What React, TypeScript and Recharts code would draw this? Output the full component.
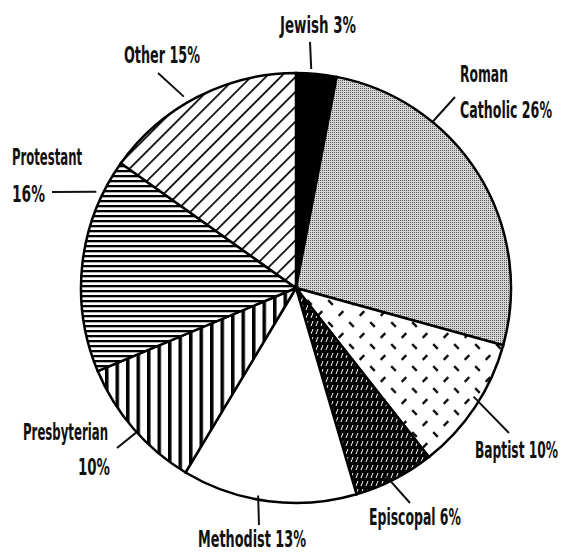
import { Cell, Pie, PieChart } from "recharts";

// Religious affiliation shares (percent), clockwise from 12 o'clock
const CATEGORIES = [
    "Jewish",
    "Roman Catholic",
    "Baptist",
    "Episcopal",
    "Methodist",
    "Presbyterian",
    "Protestant",
    "Other",
];
const SHARES = [3, 26, 10, 6, 13, 10, 16, 15];
const LABEL_TEXT = [
    ["Jewish 3%"],
    ["Roman", "Catholic 26%"],
    ["Baptist 10%"],
    ["Episcopal 6%"],
    ["Methodist 13%"],
    ["Presbyterian", "10%"],
    ["Protestant", "16%"],
    ["Other 15%"],
];
const FILLS = [
    "#000000",
    "url(#pat-dots)",
    "url(#pat-dashes)",
    "url(#pat-episcopal)",
    "#ffffff",
    "url(#pat-vertical)",
    "url(#pat-horizontal)",
    "url(#pat-diagonal)",
];

const data = CATEGORIES.map((name, i) => ({ name, value: SHARES[i] }));

const W = 562;
const H = 554;
const CX = 291;
const CY = 283;
const R = 215;
const FONT = "'Liberation Sans Narrow', 'DejaVu Sans Condensed', 'DejaVu Sans', sans-serif";
const FONT_SIZE = 14;
const STRETCH_Y = 1.6; // tall, narrow lettering like the original

// leader lines: angle on the rim (clockwise from top), outer end point,
// and where each text line sits
type LabelLayout = {
    angle: number;
    end: [number, number];
    lines: { x: number; y: number; len: number; anchor: "start" | "middle" | "end" }[];
};

const LABEL_LAYOUT: LabelLayout[] = [
    { angle: 5.4, end: [310, 42], lines: [{ x: 318, y: 33, len: 76, anchor: "middle" }] },
    {
        angle: 41.3,
        end: [455, 97],
        lines: [
            { x: 460, y: 82, len: 48, anchor: "start" },
            { x: 460, y: 118, len: 92, anchor: "start" },
        ],
    },
    { angle: 121.9, end: [509, 433], lines: [{ x: 475, y: 458, len: 83, anchor: "start" }] },
    { angle: 153.8, end: [410, 503], lines: [{ x: 369, y: 525, len: 92, anchor: "start" }] },
    { angle: 188.8, end: [259, 525], lines: [{ x: 198, y: 547, len: 108, anchor: "start" }] },
    {
        angle: 226,
        end: [117, 448],
        lines: [
            { x: 108, y: 440, len: 85, anchor: "end" },
            { x: 110, y: 475, len: 32, anchor: "end" },
        ],
    },
    {
        angle: 295.1,
        end: [52, 192],
        lines: [
            { x: 12, y: 165, len: 70, anchor: "start" },
            { x: 12, y: 202, len: 33, anchor: "start" },
        ],
    },
    { angle: 330.1, end: [158, 73], lines: [{ x: 200, y: 63, len: 76, anchor: "end" }] },
];

function renderLabel(props: any) {
    const { index } = props;
    const layout = LABEL_LAYOUT[index];
    const texts = LABEL_TEXT[index];
    const rad = (layout.angle * Math.PI) / 180;
    const x0 = CX + R * Math.sin(rad);
    const y0 = CY - R * Math.cos(rad);

    return (
        <g key={`label-${index}`}>
            <line
                x1={x0}
                y1={y0}
                x2={layout.end[0]}
                y2={layout.end[1]}
                stroke="#111"
                strokeWidth={2}
            />
            {texts.map((t, j) => {
                const l = layout.lines[j];
                return (
                    <text
                        key={j}
                        x={0}
                        y={0}
                        transform={`translate(${l.x},${l.y}) scale(1,${STRETCH_Y})`}
                        textAnchor={l.anchor}
                        textLength={l.len}
                        lengthAdjust="spacingAndGlyphs"
                        fontFamily={FONT}
                        fontSize={FONT_SIZE}
                        fontWeight={600}
                        fill="#111"
                    >
                        {t}
                    </text>
                );
            })}
        </g>
    );
}

export default function App() {
    return (
        <div style={{ position: "absolute", left: 0, top: 0, background: "#fff" }}>
            <PieChart width={W} height={H}>
                <defs>
                    <pattern id="pat-dots" width={2} height={2} patternUnits="userSpaceOnUse">
                        <rect width={2} height={2} fill="#d6d6d6" />
                        <rect width={1} height={1} fill="#5a5a5a" />
                    </pattern>
                    <pattern id="pat-dashes" width={21} height={22} patternUnits="userSpaceOnUse">
                        <rect width={21} height={22} fill="#fff" />
                        <line x1={2.7} y1={7.8} x2={7.3} y2={3.2} stroke="#111" strokeWidth={2.4} />
                        <line x1={13.2} y1={14.2} x2={17.8} y2={18.8} stroke="#111" strokeWidth={2.4} />
                    </pattern>
                    <pattern id="pat-episcopal" width={5} height={8} patternUnits="userSpaceOnUse">
                        <rect width={5} height={8} fill="#000" />
                        <line x1={1} y1={6} x2={3} y2={1} stroke="#fff" strokeWidth={1} />
                    </pattern>
                    <pattern id="pat-vertical" width={10.5} height={10} patternUnits="userSpaceOnUse">
                        <rect width={10.5} height={10} fill="#fff" />
                        <rect width={3.5} height={10} fill="#000" />
                    </pattern>
                    <pattern id="pat-horizontal" width={5} height={5} patternUnits="userSpaceOnUse">
                        <rect width={5} height={5} fill="#fff" />
                        <rect width={5} height={2.3} fill="#000" />
                    </pattern>
                    <pattern
                        id="pat-diagonal"
                        width={10.5}
                        height={10}
                        patternUnits="userSpaceOnUse"
                        patternTransform="rotate(45)"
                    >
                        <rect width={10.5} height={10} fill="#fff" />
                        <rect width={1.7} height={10} fill="#000" />
                    </pattern>
                </defs>
                <Pie
                    data={data}
                    dataKey="value"
                    nameKey="name"
                    cx={CX}
                    cy={CY}
                    innerRadius={0}
                    outerRadius={R}
                    startAngle={90}
                    endAngle={-270}
                    stroke="#000"
                    strokeWidth={2.5}
                    label={renderLabel}
                    labelLine={false}
                    isAnimationActive={false}
                >
                    {data.map((d, i) => (
                        <Cell key={d.name} fill={FILLS[i]} />
                    ))}
                </Pie>
            </PieChart>
        </div>
    );
}
